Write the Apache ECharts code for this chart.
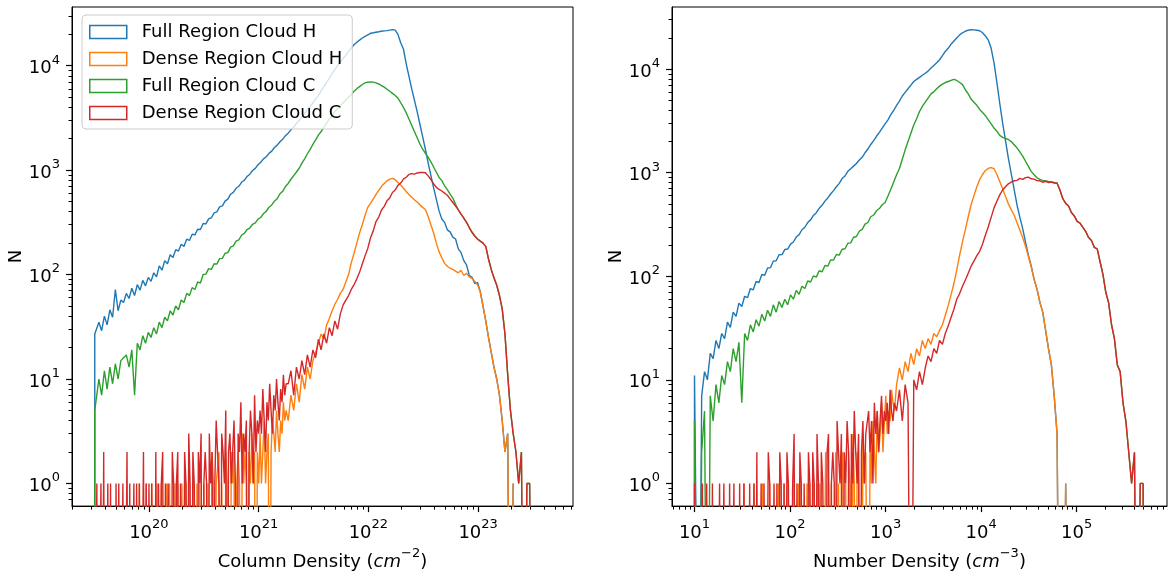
<!DOCTYPE html>
<html><head><meta charset="utf-8">
<script src="https://cdn.jsdelivr.net/npm/echarts@6/dist/echarts.min.js"></script>
<style>html,body{margin:0;padding:0;background:#fff}#c{width:1170px;height:576px}</style>
</head><body><div id="c"></div>
<script>
// ---------------- DATA ----------------
const seriesNames = ['Full Region Cloud H', 'Dense Region Cloud H', 'Full Region Cloud C', 'Dense Region Cloud C'];
// histogram bins: log10 of first edge and log10 bin width
const colBinStart = 19.507, colBinStep = 0.025;      // column density, full range
const colFineStart = 19.507, colFineStep = 0.0125;   // column density, sparse low-count part of dense regions
const colDenseStart = 21.257;                         // dense regions, coarse part (step colBinStep)
const numBinStart = 1.0, numBinStep = 0.03;          // number density, full range
const numFineStart = 1.0, numFineStep = 0.015;       // number density, sparse low-count part
const numDenseStart = 3.1;                            // dense regions, coarse part (step numBinStep)

// ---- Column density (counts per bin) ----
const colFullH = [
27,35,29,40,33,46,39,72,45,57, 54,66,59,74,63,80,71,88,78,94,
86,104,95,121,110,136,127,155,146,173, 168,195,186,218,212,243,240,272,270,308,
306,342,350,390,398,445,455,505,528,588, 612,670,700,765,800,868,915,992,1040,1126,
1190,1282,1345,1448,1520,1646,1735,1868,1980,2138, 2260,2432,2590,2792,2985,3240,3510,3800,4075,4415,
4785,5190,5750,6310,6920,7590,8410,9230,10000,10840, 11750,12590,13650,14790,15850,16790,17580,18410,19050,19720,
20420,20650,20890,21130,21380,21530,21680,21880,22130,21880, 19950,16600,14450,10470,7940,6030,4680,3630,2750,2090,
1585,1175,890,676,525,405,340,316,268,256, 228,219,176,162,136,124,98,94,82,84,
69,50,36,25,18,13,10,7,4,2, 3,0,1,0,0,0,0,0,0,0, 0,0,0,0,0,0];
const colFullC = [
5,10,7,12,8,13,9,14,10,15, 16,17,13,19,7,22,19,26,22,28,
25,31,27,35,31,39,36,45,41,50, 46,57,54,66,63,75,72,85,83,100,
101,114,112,127,126,142,143,160,162,183, 188,209,215,238,248,270,279,303,313,339,
352,384,403,441,464,506,533,594,627,696, 746,818,887,960,1043,1166,1284,1435,1580,1764,
1945,2163,2344,2570,2818,3090,3311,3631,3890,4121, 4416,4677,5012,5309,5689,6026,6310,6607,6839,6950,
6998,6966,6839,6683,6457,6237,5957,5689,5433,5188, 4898,4416,3981,3548,3090,2692,2344,2042,1778,1585,
1445,1334,1202,1072,955,851,794,708,650,590, 540,470,417,380,347,316,282,254,234,219,
209,200,186,141,112,93,79,63,47,27, 11,5,3,2,1,2,0,1,1,0, 0,0,0,0,0,0];
const colDenseHFine = [
0,0,0,0,0,0,0,0,0,0, 0,0,0,0,0,0,0,0,0,0, 0,0,0,0,0,0,0,0,0,0, 0,0,1,0,0,0,0,1,0,0,
0,1,0,0,0,1,0,0,1,0, 0,0,1,0,1,0,0,0,1,0, 1,0,0,1,0,0,1,0,1,1, 0,0,1,0,1,0,1,1,0,1,
1,0,1,1,0,2,1,0,1,1, 2,0,1,1,0,2,1,1,0,2, 1,2,0,1,2,1,0,3,1,2, 1,0,2,1,3,1,2,0,2,1,
3,1,2,4,1,2,3,0,2,4, 3,2,5,3,2,4,3,6,4,5];
const colDenseH = [
4,7,5,9,6,11,8,13,10,15, 18,22,27,24,33,38,45,52,58,66,
72,85,100,130,160,200,250,300,370,440, 480,530,585,640,700,745,790,820,835,810,
760,720,670,625,585,550,520,495,465,440, 420,360,300,250,200,165,145,128,120,115,
112,108,104,110,98,103,95,92,86,80, 68,50,36,25,18,13,10,7,4,2,
3,0,1,0,0,0,0,0,0,0, 0,0,0,0,0,0];
const colDenseCFine = [
0,1,0,0,1,0,2,0,0,1, 0,1,0,0,0,1,0,1,0,0, 1,0,0,2,0,1,0,0,1,0, 1,0,1,0,0,2,0,1,0,1,
0,1,1,0,2,0,1,0,1,2, 0,1,0,1,1,0,2,1,0,1, 2,0,1,1,0,2,1,0,3,1, 0,2,1,1,0,2,1,3,0,1,
2,1,0,3,1,2,0,1,4,2, 1,0,3,2,1,5,0,2,3,1, 2,4,1,0,3,2,6,1,3,2, 4,0,2,5,3,1,7,2,4,3,
5,3,8,4,2,6,4,9,5,3, 7,5,10,6,4,8,6,11,7,9];
const colDenseC = [
9,12,7,13,10,15,11,17,13,19, 16,24,19,27,22,31,26,36,30,42,
51,57,63,72,80,91,105,126,151,178, 225,262,322,355,415,450,508,542,610,646,
715,752,820,855,910,925,915,940,950,948, 944,881,813,741,684,653,631,603,575,531,
490,452,417,380,347,316,282,254,234,219, 209,200,186,141,112,93,79,63,47,27,
11,5,3,2,1,2,0,1,1,0, 0,0,0,0,0,0];

// ---- Number density (counts per bin) ----
const numFullH = [
11,0,7,12,10,18,16,24,20,28, 25,36,32,45,41,55,51,64,62,76,
74,89,87,104,102,120,121,140,141,161, 162,181,183,204,214,239,252,281,297,330,
350,386,411,453,484,531,570,622,671,731, 788,877,928,1030,1090,1156,1224,1325,1405,1556,
1690,1870,2035,2245,2450,2692,2951,3236,3631,3981, 4467,4898,5495,5957,6457,6998,7586,7943,8318,8710,
9120,9550,10230,10840,11480,12300,13490,14790,15850,17380, 18620,19950,21380,22390,23170,23710,23990,23880,23660,23440,
22390,20890,19050,15850,11480,7413,4677,3020,2042,1380, 977,692,490,372,288,212,160,125,93,75,
56,45,30,20,14,7,3,0,0,1, 0,0,0,0,0,0,0,0,0,0,
0,0,0,0,0,0,0,0,0,0, 0,0,0,0,0,0,0];
const numFullC = [
4,0,2,5,0,7,4,9,6,11, 9,15,12,20,15,23,6,28,24,34,
29,38,33,43,37,47,41,53,45,57, 50,60,53,66,60,73,67,80,76,90,
88,101,98,113,110,127,125,144,143,162, 160,182,184,208,210,238,242,272,283,318,
330,375,390,428,450,490,515,595,692,813, 955,1096,1349,1660,1995,2399,2884,3311,3890,4365,
4786,5248,5754,6026,6457,6839,7161,7413,7586,7762, 7943,7762,7413,7079,6310,5754,5129,4786,4467,4074,
3802,3548,3236,2951,2692,2512,2291,2188,2138,2089, 1995,1862,1738,1585,1445,1288,1148,1023,955,891,
861,841,832,822,813,803,794,680,560,505, 476,412,382,338,326,296,270,236,221,190,
184,138,104,70,55,34,25,14,12,6, 4,2,1,2,0,1,1];
const numDenseHFine = [
0,0,0,0,0,0,0,0,0,0, 0,0,0,0,0,0,0,0,0,0, 0,0,0,0,0,0,0,0,0,0, 0,0,0,0,1,0,0,0,0,0,
0,1,0,0,0,0,0,1,0,0, 0,0,1,0,0,0,0,0,1,0, 0,0,1,0,0,1,0,0,0,1, 0,0,1,0,1,0,0,0,1,0,
1,0,0,1,0,1,0,1,1,0, 0,2,0,1,0,1,1,0,2,0, 1,0,1,2,0,1,0,2,1,0, 3,1,0,2,1,1,0,3,1,2,
2,0,3,1,4,2,1,5,2,3, 6,2,4,7,3,5,4,8,6,5];
const numDenseH = [
9,13,10,15,12,18,14,20,17,24, 20,25,22,28,26,30,34,42,52,66,
85,115,160,215,282,375,490,600,730,860, 960,1050,1100,1120,1090,960,820,700,590,500,
440,390,330,280,235,195,155,122,93,75, 56,45,30,20,14,7,3,0,0,1,
0,0,0,0,0,0,0,0,0,0, 0,0,0,0,0,0,0,0,0,0, 0,0,0,0,0,0,0];
const numDenseCFine = [
1,0,0,0,0,1,0,0,1,0, 0,0,1,0,0,0,0,1,0,0, 1,0,0,0,1,0,0,1,0,0, 0,1,0,0,1,0,0,0,1,0,
0,1,0,2,0,0,1,0,1,0, 0,2,1,0,0,1,0,1,0,2, 1,0,1,0,2,1,0,0,1,3, 0,1,0,2,1,0,1,1,0,2,
1,0,2,1,0,3,1,0,2,1, 1,0,2,3,0,1,2,1,0,4, 2,1,3,0,2,1,4,2,0,3, 1,5,2,1,3,0,2,4,1,3,
3,5,2,4,1,6,3,5,2,4, 7,3,5,4,6,3,8,5,4,6];
const numDenseC = [
5,8,4,9,6,0,10,8,12,9, 13,17,15,20,18,24,22,28,33,40,
48,60,68,80,92,107,125,140,158,174, 205,250,300,370,457,530,610,680,730,780,
810,835,842,880,862,895,905,872,866,838, 835,808,826,803,812,795,790,680,560,505,
476,412,382,338,326,296,270,236,221,190, 184,138,104,70,55,34,25,14,12,6,
4,2,1,2,0,1,1];

const colTicks = [1e20, 1e21, 1e22, 1e23];
const numTicks = [1e1, 1e2, 1e3, 1e4, 1e5];
const yTicks = [1e0, 1e1, 1e2, 1e3, 1e4];

// ---------------- CHART ----------------
const COLORS = ['#1f77b4', '#ff7f0e', '#2ca02c', '#d62728'];
const FONT = 'DejaVu Sans';
const FLOOR = 1e-3; // empty bins: drawn down past the bottom of the axes (clipped)

const colX = [Math.pow(10, 19.2995), Math.pow(10, 23.8645)];
const colY = [Math.pow(10, -0.217), Math.pow(10, 4.562)];
const numX = [Math.pow(10, 0.7645), Math.pow(10, 5.9455)];
const numY = [Math.pow(10, -0.219), Math.pow(10, 4.599)];

// histogram outline from contiguous bin blocks [[counts, log10 start, log10 step], ...]
function histPoints(parts) {
  const v = c => (c > 0 ? c : FLOOR);
  const pts = [];
  parts.forEach(([counts, start, step], k) => {
    if (k === 0) pts.push([Math.pow(10, start), FLOOR], [Math.pow(10, start), v(counts[0])]);
    counts.forEach((c, i) => pts.push([Math.pow(10, start + (i + 0.5) * step), v(c)]));
    if (k === parts.length - 1) {
      const end = Math.pow(10, start + counts.length * step);
      pts.push([end, v(counts[counts.length - 1])], [end, FLOOR]);
    }
  });
  return pts;
}
function minorTicks(range) {
  const out = [];
  const lo = Math.floor(Math.log10(range[0])), hi = Math.ceil(Math.log10(range[1]));
  for (let e = lo; e <= hi; e++) for (let k = 2; k <= 9; k++) {
    const val = k * Math.pow(10, e);
    if (val > range[0] && val < range[1]) out.push(val);
  }
  return out;
}
const labelRich = {
  b: { fontSize: 18, fontFamily: FONT, color: '#000', lineHeight: 24, verticalAlign: 'bottom' },
  s: { fontSize: 13, fontFamily: FONT, color: '#000', lineHeight: 13, verticalAlign: 'top' }
};
const nameRich = {
  b: { fontSize: 18, fontFamily: FONT, color: '#000', lineHeight: 24, verticalAlign: 'bottom' },
  i: { fontSize: 18, fontFamily: FONT, fontStyle: 'italic', color: '#000', lineHeight: 24, verticalAlign: 'bottom' },
  s: { fontSize: 13, fontFamily: FONT, color: '#000', lineHeight: 13, verticalAlign: 'top' }
};
const supFmt = v => '{b|10}{s|' + Math.round(Math.log10(v)) + '}';

function majorAxis(gridIndex, range, ticks, isX, name) {
  const ax = {
    type: 'log', logBase: 10, gridIndex, min: range[0], max: range[1],
    axisLine: { show: true, onZero: false, lineStyle: { color: '#000', width: 1 } },
    axisTick: { show: true, inside: false, length: 6, lineStyle: { color: '#000', width: 1.2 }, customValues: ticks },
    axisLabel: { show: true, customValues: ticks, formatter: supFmt, rich: labelRich, margin: 12, color: '#000', fontFamily: FONT, fontSize: 18 },
    splitLine: { show: false }, minorTick: { show: false }, minorSplitLine: { show: false },
    name: name, nameLocation: 'middle',
    nameTextStyle: { rich: nameRich, fontFamily: FONT, fontSize: 18, color: '#000' }
  };
  if (isX) { ax.position = 'bottom'; ax.nameGap = 34; }
  else { ax.position = 'left'; ax.nameGap = 45; ax.nameRotate = 90; }
  return ax;
}
function minorAxis(gridIndex, range, isX) {
  return {
    type: 'log', logBase: 10, gridIndex, min: range[0], max: range[1],
    position: isX ? 'bottom' : 'left',
    axisLine: { show: false },
    axisTick: { show: true, inside: false, length: 3.5, lineStyle: { color: '#000', width: 1 }, customValues: minorTicks(range) },
    axisLabel: { show: false }, splitLine: { show: false }
  };
}
function histSeries(idx, parts, panel) {
  return {
    name: seriesNames[idx], type: 'line',
    xAxisIndex: panel * 2, yAxisIndex: panel * 2,
    data: histPoints(parts),
    symbol: 'none', showSymbol: false, clip: true, silent: true,
    lineStyle: { color: COLORS[idx], width: 1.4 },
    itemStyle: { color: COLORS[idx] }
  };
}

const chart = echarts.init(document.getElementById('c'), null, { renderer: 'canvas' });
chart.setOption({
  animation: false,
  backgroundColor: '#fff',
  textStyle: { fontFamily: FONT },
  grid: [
    { left: 72, top: 7, width: 501, height: 510, show: true, borderColor: '#000', borderWidth: 1, backgroundColor: 'transparent' },
    { left: 672, top: 7, width: 495, height: 510, show: true, borderColor: '#000', borderWidth: 1, backgroundColor: 'transparent' }
  ],
  xAxis: [
    majorAxis(0, colX, colTicks, true, '{b|Column Density (}{i|cm}{s|−2}{b|)}'),
    minorAxis(0, colX, true),
    majorAxis(1, numX, numTicks, true, '{b|Number Density (}{i|cm}{s|−3}{b|)}'),
    minorAxis(1, numX, true)
  ],
  yAxis: [
    majorAxis(0, colY, yTicks, false, '{b|N}'),
    minorAxis(0, colY, false),
    majorAxis(1, numY, yTicks, false, '{b|N}'),
    minorAxis(1, numY, false)
  ],
  legend: {
    show: true, orient: 'vertical', left: 82, top: 15,
    padding: [8, 10, 7, 7], itemWidth: 37, itemHeight: 13, itemGap: 9,
    backgroundColor: 'rgba(255,255,255,0.8)', borderColor: '#cccccc', borderWidth: 1, borderRadius: 4,
    selectedMode: false,
    textStyle: { fontFamily: FONT, fontSize: 18, color: '#000', lineHeight: 18, padding: [0, 0, 0, 10] },
    data: seriesNames.map((n, i) => ({
      name: n, icon: 'rect',
      itemStyle: { color: 'rgba(0,0,0,0)', borderColor: COLORS[i], borderWidth: 1.5 }
    }))
  },
  series: [
    histSeries(0, [[colFullH, colBinStart, colBinStep]], 0),
    histSeries(1, [[colDenseHFine, colFineStart, colFineStep], [colDenseH, colDenseStart, colBinStep]], 0),
    histSeries(2, [[colFullC, colBinStart, colBinStep]], 0),
    histSeries(3, [[colDenseCFine, colFineStart, colFineStep], [colDenseC, colDenseStart, colBinStep]], 0),
    histSeries(0, [[numFullH, numBinStart, numBinStep]], 1),
    histSeries(1, [[numDenseHFine, numFineStart, numFineStep], [numDenseH, numDenseStart, numBinStep]], 1),
    histSeries(2, [[numFullC, numBinStart, numBinStep]], 1),
    histSeries(3, [[numDenseCFine, numFineStart, numFineStep], [numDenseC, numDenseStart, numBinStep]], 1)
  ]
});
</script>
</body></html>
